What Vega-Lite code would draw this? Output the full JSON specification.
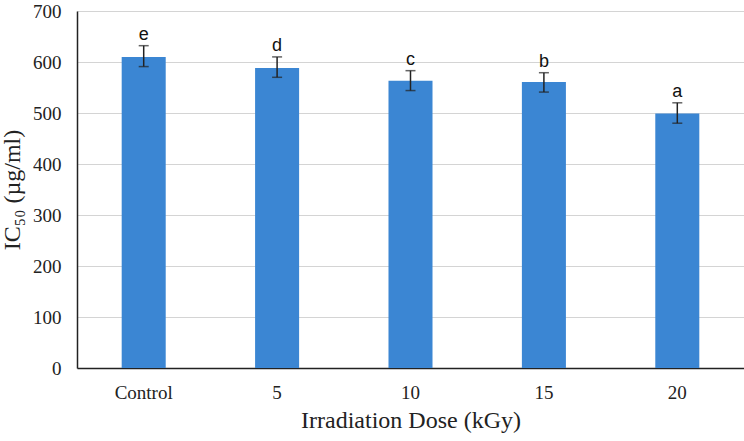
{
  "$schema": "https://vega.github.io/schema/vega-lite/v6.json",
  "width": 667,
  "height": 357,
  "autosize": {"type": "none"},
  "padding": {"left": 77, "top": 11, "right": 0, "bottom": 73},
  "background": "white",
  "config": {"view": {"stroke": null}},
  "data": {
    "values": [
      {"dose": "Control", "ic50": 610, "lo": 591, "hi": 632, "letter": "e"},
      {"dose": "5", "ic50": 588, "lo": 570, "hi": 610, "letter": "d"},
      {"dose": "10", "ic50": 563, "lo": 544, "hi": 583, "letter": "c"},
      {"dose": "15", "ic50": 561, "lo": 541, "hi": 579, "letter": "b"},
      {"dose": "20", "ic50": 499, "lo": 480, "hi": 520, "letter": "a"}
    ]
  },
  "encoding": {
    "x": {
      "field": "dose", "type": "nominal", "sort": null,
      "scale": {"paddingInner": 0.67, "paddingOuter": 0.335},
      "axis": {
        "title": "Irradiation Dose (kGy)", "labelAngle": 0,
        "labelFont": "Liberation Serif", "labelFontSize": 19, "labelColor": "#222",
        "labelPadding": 15, "ticks": false, "domainColor": "#222", "domainWidth": 1.5,
        "titleFont": "Liberation Serif", "titleFontSize": 24, "titleFontWeight": "normal",
        "titleColor": "#222", "titlePadding": 6
      }
    }
  },
  "layer": [
    {
      "mark": {"type": "bar", "color": "#3b86d3"},
      "encoding": {
        "y": {
          "field": "ic50", "type": "quantitative",
          "scale": {"domain": [0, 700]},
          "axis": {
            "title": "IC₅₀ (µg/ml)", "values": [0, 100, 200, 300, 400, 500, 600, 700],
            "labelFont": "Liberation Serif", "labelFontSize": 19, "labelColor": "#222",
            "labelPadding": 16, "ticks": false, "domainColor": "#222", "domainWidth": 1.5,
            "gridColor": "#d4d4d4", "gridWidth": 1.2,
            "titleFont": "Liberation Serif", "titleFontSize": 24, "titleFontWeight": "normal",
            "titleColor": "#222", "titlePadding": 8
          }
        }
      }
    },
    {
      "mark": {"type": "rule", "color": "#222", "strokeWidth": 1.5},
      "encoding": {
        "y": {"field": "lo", "type": "quantitative"},
        "y2": {"field": "hi"}
      }
    },
    {
      "mark": {"type": "tick", "color": "#222", "thickness": 1.5, "size": 10},
      "encoding": {"y": {"field": "lo", "type": "quantitative"}}
    },
    {
      "mark": {"type": "tick", "color": "#222", "thickness": 1.5, "size": 10},
      "encoding": {"y": {"field": "hi", "type": "quantitative"}}
    },
    {
      "mark": {"type": "text", "baseline": "bottom", "dy": -2, "font": "Liberation Sans", "fontSize": 18, "color": "#111"},
      "encoding": {
        "y": {"field": "hi", "type": "quantitative"},
        "text": {"field": "letter"}
      }
    }
  ]
}
